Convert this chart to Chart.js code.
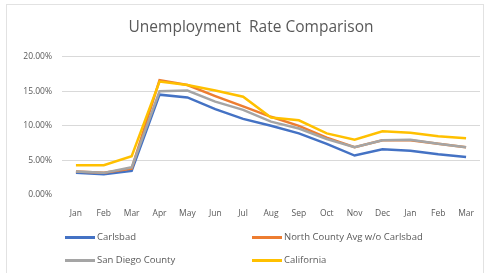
<!DOCTYPE html>
<html>
<head>
<meta charset="utf-8">
<script src="https://cdn.jsdelivr.net/npm/chart.js@4/dist/chart.umd.min.js"></script>
<style>
  body{margin:0;background:#fff;}
  #wrap{position:relative;width:487px;height:273px;font-family:"Open Sans",Calibri,sans-serif;}
  #c{position:absolute;left:0;top:0;}
  #frame{position:absolute;left:6px;top:4px;width:478px;height:272px;border:1px solid #e2e2e2;box-sizing:border-box;}
  #legend{position:absolute;left:0;top:0;width:487px;height:273px;pointer-events:none;}
  .item{position:absolute;font-size:9.5px;color:#595959;white-space:nowrap;line-height:12px;}
  .item span.sw{display:inline-block;width:30px;height:3px;vertical-align:middle;margin-right:2px;}
</style>
</head>
<body>
<div id="wrap">
  <div id="frame"></div>
  <canvas id="c" width="487" height="273"></canvas>
  <div id="legend"></div>
</div>
<script>
const months = ["Jan","Feb","Mar","Apr","May","Jun","Jul","Aug","Sep","Oct","Nov","Dec","Jan","Feb","Mar"];
const carlsbad   = [3.2,3.0,3.5,14.5,14.1,12.4,11.0,10.0,8.9,7.4,5.7,6.6,6.4,5.9,5.5];
const northCounty= [3.4,3.2,3.8,16.6,15.9,14.3,12.8,11.3,10.0,8.3,6.9,7.9,7.9,7.4,6.9];
const sdCounty   = [3.4,3.2,4.0,15.0,15.1,13.5,12.3,10.6,9.6,8.1,6.9,7.9,8.0,7.4,6.9];
const california = [4.3,4.3,5.6,16.4,15.9,15.1,14.2,11.2,10.8,8.9,8.0,9.2,9.0,8.5,8.2];
const yTicks = [0,5,10,15,20];

const series = [
  {label:"Carlsbad", data:carlsbad, color:"#4472C4", order:4},
  {label:"North County Avg w/o Carlsbad", data:northCounty, color:"#ED7D31", order:3},
  {label:"San Diego County", data:sdCounty, color:"#A5A5A5", order:2},
  {label:"California", data:california, color:"#FFC000", order:1}
];

const chart = new Chart(document.getElementById('c'), {
  type:'line',
  data:{
    labels: months,
    datasets: series.map(s=>({
      label:s.label, data:s.data, borderColor:s.color, backgroundColor:s.color,
      borderWidth:2.5, pointRadius:0, tension:0, order:s.order
    }))
  },
  options:{
    responsive:false, animation:false,
    layout:{padding:{left:22,right:7,top:0,bottom:0}},
    plugins:{
      legend:{display:false},
      tooltip:{enabled:false},
      title:{display:true, text:"Unemployment  Rate Comparison", color:"#595959",
        font:{family:"'Open Sans', Calibri, sans-serif", size:15.5, weight:'normal'},
        padding:{top:18,bottom:20}}
    },
    scales:{
      x:{
        offset:true,
        grid:{display:false},
        border:{display:false},
        ticks:{color:"#595959", font:{family:"'Open Sans', sans-serif", size:8.5}, padding:5, maxRotation:0, autoSkip:false},
        afterFit:s=>{ s.height = 78; }
      },
      y:{
        min:0, max:20,
        afterBuildTicks:s=>{ s.ticks = yTicks.map(v=>({value:v})); },
        grid:{color:c=> c.tick && c.tick.value===0 ? 'rgba(0,0,0,0)' : '#d9d9d9', drawTicks:false, lineWidth:1},
        border:{display:false},
        ticks:{color:"#595959", font:{family:"'Open Sans', sans-serif", size:8.5}, padding:10,
          callback:v=> v.toFixed(2)+"%"},
        afterFit:s=>{ s.width = 40; }
      }
    }
  }
});

// legend in two columns, built from the datasets
const legendPos = [[65,231],[252,231],[65,254],[252,254]];
const lg = document.getElementById('legend');
series.forEach((s,i)=>{
  const d = document.createElement('div');
  d.className = 'item';
  d.style.left = legendPos[i][0]+'px';
  d.style.top = legendPos[i][1]+'px';
  d.innerHTML = `<span class="sw" style="background:${s.color}"></span>${s.label}`;
  lg.appendChild(d);
});
</script>
</body>
</html>
